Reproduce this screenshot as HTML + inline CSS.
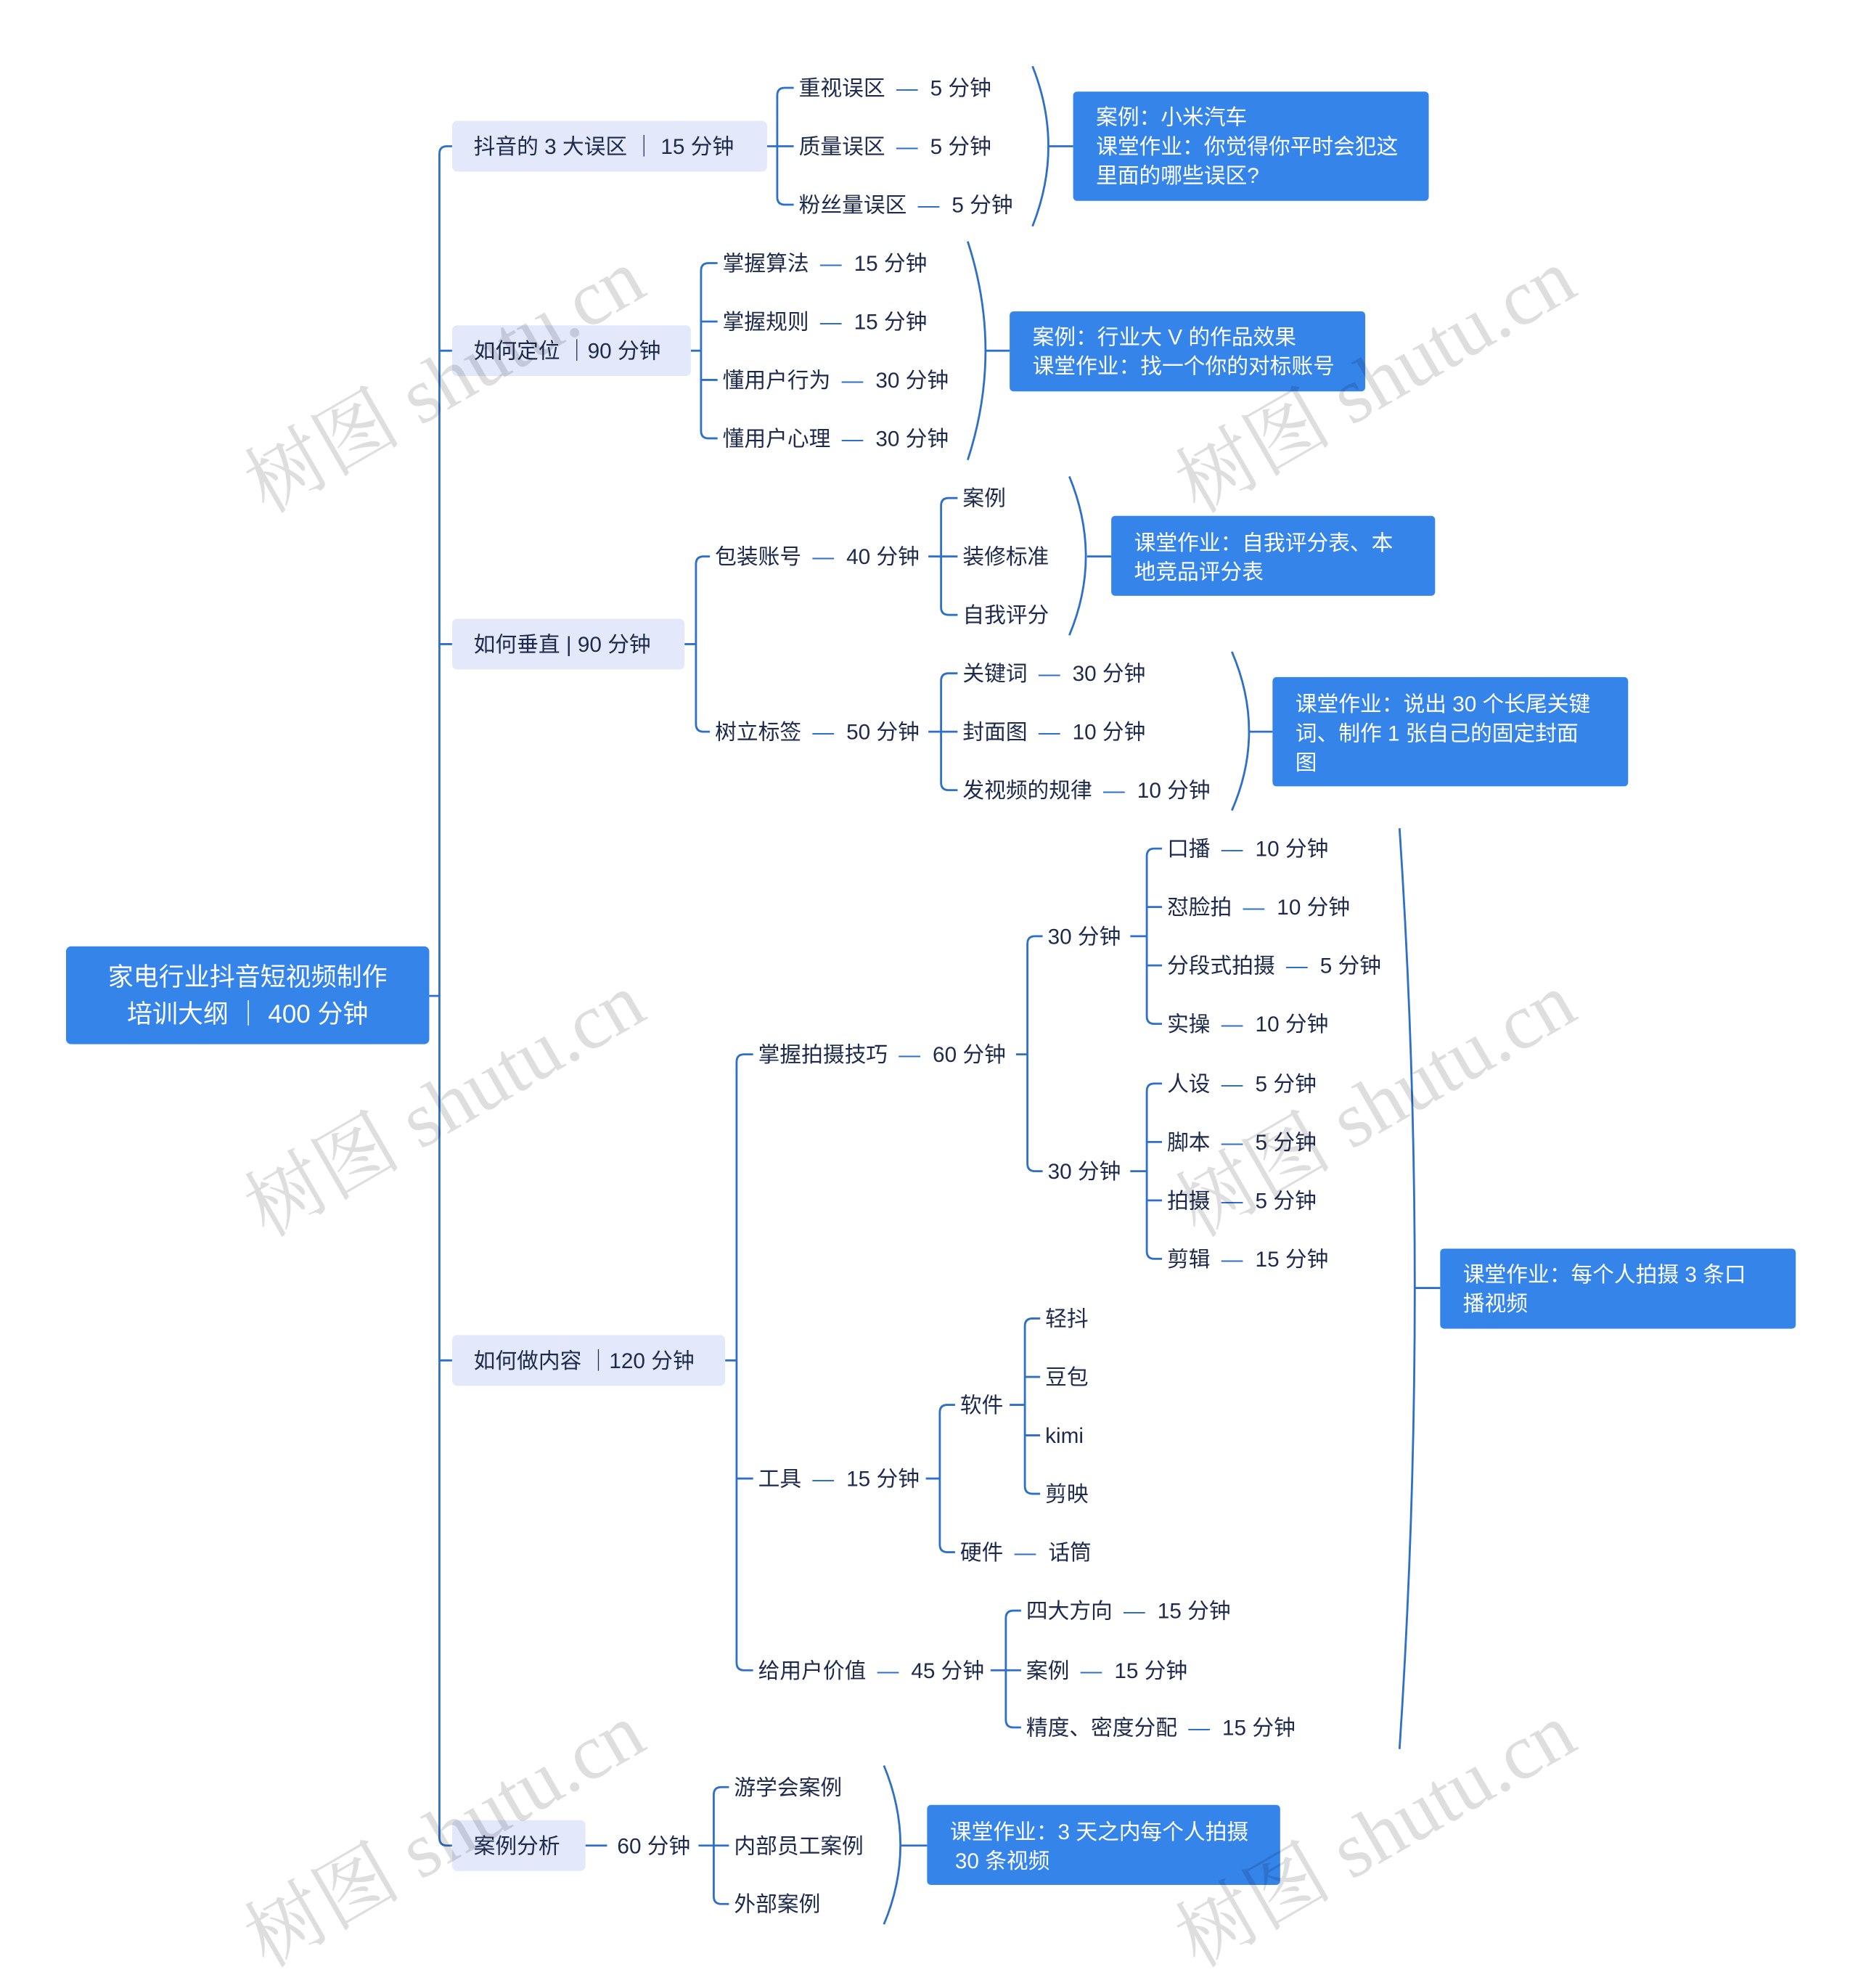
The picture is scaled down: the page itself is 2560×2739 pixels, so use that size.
<!DOCTYPE html>
<html><head><meta charset="utf-8"><style>
html,body{margin:0;padding:0;background:#fff;}
svg{display:block;}
text{font-family:"Liberation Sans","Noto Sans CJK SC",sans-serif;}
.t{font-size:17px;fill:#1d2a4d;}
.d{fill:#2e6fc8;letter-spacing:5px;}
.w{font-size:17px;fill:#fff;}
.ln{fill:none;stroke:#2e6fc8;stroke-width:1.6;}
.wm text{font-family:"Liberation Serif","Noto Serif CJK SC",serif;font-size:62px;fill:rgba(0,0,0,0.13);}
</style></head><body>
<svg width="2560" height="2739" viewBox="0 0 1463 1565" xmlns="http://www.w3.org/2000/svg">
<rect width="1463" height="1565" fill="#fff"/>

<g class="ln">
<path d="M338 784 H346 M356 115 H352 Q346 115 346 121 V1447 Q346 1453 352 1453 H356 M346 276 H356 M346 507 H356 M346 1071 H356"/>
<path d="M604 115 H612 M625 69 H618 Q612 69 612 75 V155 Q612 161 618 161 H625 M612 115 H625"/>
<path d="M813 52 Q838 115 813 178 M826 115 H845"/>
<path d="M544 276 H552 M565 207 H558 Q552 207 552 213 V339 Q552 345 558 345 H565 M552 253 H565 M552 299 H565"/>
<path d="M762 190 Q790 276 762 362 M776 276 H795"/>
<path d="M539 507 H548 M559 438 H554 Q548 438 548 444 V570 Q548 576 554 576 H559"/>
<path d="M731 438 H741 M754 392 H747 Q741 392 741 398 V478 Q741 484 747 484 H754 M741 438 H754"/>
<path d="M842 375 Q868 438 842 500 M856 438 H875"/>
<path d="M731 576 H741 M754 530 H747 Q741 530 741 536 V616 Q741 622 747 622 H754 M741 576 H754"/>
<path d="M970 513 Q997 576 970 638 M984 576 H1002"/>
<path d="M571 1071 H580 M593 830 H586 Q580 830 580 836 V1309 Q580 1315 586 1315 H593 M580 1164 H593"/>
<path d="M800 830 H809 M821 737 H815 Q809 737 809 743 V916 Q809 922 815 922 H821"/>
<path d="M890 737 H903 M915 668 H909 Q903 668 903 674 V800 Q903 806 909 806 H915 M903 714 H915 M903 760 H915"/>
<path d="M890 922 H903 M915 853 H909 Q903 853 903 859 V985 Q903 991 909 991 H915 M903 899 H915 M903 945 H915"/>
<path d="M729 1164 H740 M752 1106 H746 Q740 1106 740 1112 V1216 Q740 1222 746 1222 H752"/>
<path d="M795 1106 H807 M819 1038 H813 Q807 1038 807 1044 V1170 Q807 1176 813 1176 H819 M807 1084 H819 M807 1130 H819"/>
<path d="M780 1315 H792 M804 1268 H798 Q792 1268 792 1274 V1354 Q792 1360 798 1360 H804 M792 1315 H804"/>
<path d="M1102 652 Q1126 1014 1102 1377 M1114 1014 H1134"/>
<path d="M461 1453 H478"/>
<path d="M550 1453 H562 M574 1407 H568 Q562 1407 562 1413 V1493 Q562 1499 568 1499 H574 M562 1453 H574"/>
<path d="M696 1390 Q722 1453 696 1515 M709 1453 H730"/>
</g>

<rect x="52" y="745" width="286" height="77" rx="4" fill="#3584ea"/>
<text x="195" y="776" text-anchor="middle" style="font-size:20px;fill:#fff">家电行业抖音短视频制作</text>
<text x="195" y="805" text-anchor="middle" style="font-size:20px;fill:#fff">培训大纲 ｜ 400 分钟</text>

<g fill="#e3e9fb">
<rect x="356" y="95" width="248" height="40" rx="4"/>
<rect x="356" y="256" width="188" height="40" rx="4"/>
<rect x="356" y="487" width="183" height="40" rx="4"/>
<rect x="356" y="1051" width="215" height="40" rx="4"/>
<rect x="356" y="1433" width="105" height="40" rx="4"/>
</g>
<text class="t" x="373" y="121">抖音的 3 大误区 ｜ 15 分钟</text>
<text class="t" x="373" y="282">如何定位 ｜90 分钟</text>
<text class="t" x="373" y="513">如何垂直 | 90 分钟</text>
<text class="t" x="373" y="1077">如何做内容 ｜120 分钟</text>
<text class="t" x="373" y="1459">案例分析</text>
<text class="t" x="486" y="1459">60 分钟</text>

<g class="t">
<text x="629" y="75">重视误区 <tspan class="d" dx="4">—</tspan> 5 分钟</text>
<text x="629" y="121">质量误区 <tspan class="d" dx="4">—</tspan> 5 分钟</text>
<text x="629" y="167">粉丝量误区 <tspan class="d" dx="4">—</tspan> 5 分钟</text>

<text x="569" y="213">掌握算法 <tspan class="d" dx="4">—</tspan> 15 分钟</text>
<text x="569" y="259">掌握规则 <tspan class="d" dx="4">—</tspan> 15 分钟</text>
<text x="569" y="305">懂用户行为 <tspan class="d" dx="4">—</tspan> 30 分钟</text>
<text x="569" y="351">懂用户心理 <tspan class="d" dx="4">—</tspan> 30 分钟</text>

<text x="563" y="444">包装账号 <tspan class="d" dx="4">—</tspan> 40 分钟</text>
<text x="563" y="582">树立标签 <tspan class="d" dx="4">—</tspan> 50 分钟</text>
<text x="758" y="398">案例</text>
<text x="758" y="444">装修标准</text>
<text x="758" y="490">自我评分</text>
<text x="758" y="536">关键词 <tspan class="d" dx="4">—</tspan> 30 分钟</text>
<text x="758" y="582">封面图 <tspan class="d" dx="4">—</tspan> 10 分钟</text>
<text x="758" y="628">发视频的规律 <tspan class="d" dx="4">—</tspan> 10 分钟</text>

<text x="597" y="836">掌握拍摄技巧 <tspan class="d" dx="4">—</tspan> 60 分钟</text>
<text x="597" y="1170">工具 <tspan class="d" dx="4">—</tspan> 15 分钟</text>
<text x="597" y="1321">给用户价值 <tspan class="d" dx="4">—</tspan> 45 分钟</text>
<text x="825" y="743">30 分钟</text>
<text x="825" y="928">30 分钟</text>
<text x="919" y="674">口播 <tspan class="d" dx="4">—</tspan> 10 分钟</text>
<text x="919" y="720">怼脸拍 <tspan class="d" dx="4">—</tspan> 10 分钟</text>
<text x="919" y="766">分段式拍摄 <tspan class="d" dx="4">—</tspan> 5 分钟</text>
<text x="919" y="812">实操 <tspan class="d" dx="4">—</tspan> 10 分钟</text>
<text x="919" y="859">人设 <tspan class="d" dx="4">—</tspan> 5 分钟</text>
<text x="919" y="905">脚本 <tspan class="d" dx="4">—</tspan> 5 分钟</text>
<text x="919" y="951">拍摄 <tspan class="d" dx="4">—</tspan> 5 分钟</text>
<text x="919" y="997">剪辑 <tspan class="d" dx="4">—</tspan> 15 分钟</text>
<text x="756" y="1112">软件</text>
<text x="756" y="1228">硬件 <tspan class="d" dx="4">—</tspan> 话筒</text>
<text x="823" y="1044">轻抖</text>
<text x="823" y="1090">豆包</text>
<text x="823" y="1136">kimi</text>
<text x="823" y="1182">剪映</text>
<text x="808" y="1274">四大方向 <tspan class="d" dx="4">—</tspan> 15 分钟</text>
<text x="808" y="1321">案例 <tspan class="d" dx="4">—</tspan> 15 分钟</text>
<text x="808" y="1366">精度、密度分配 <tspan class="d" dx="4">—</tspan> 15 分钟</text>

<text x="578" y="1413">游学会案例</text>
<text x="578" y="1459">内部员工案例</text>
<text x="578" y="1505">外部案例</text>
</g>

<g fill="#3584ea">
<rect x="845" y="72" width="280" height="86" rx="3"/>
<rect x="795" y="245" width="280" height="63" rx="3"/>
<rect x="875" y="406" width="255" height="63" rx="3"/>
<rect x="1002" y="533" width="280" height="86" rx="3"/>
<rect x="1134" y="983" width="280" height="63" rx="3"/>
<rect x="730" y="1421" width="278" height="63" rx="3"/>
</g>
<g class="w">
<text x="863" y="98">案例：小米汽车</text>
<text x="863" y="121">课堂作业：你觉得你平时会犯这</text>
<text x="863" y="144">里面的哪些误区?</text>
<text x="813" y="271">案例：行业大 V 的作品效果</text>
<text x="813" y="294">课堂作业：找一个你的对标账号</text>
<text x="893" y="433">课堂作业：自我评分表、本</text>
<text x="893" y="456">地竞品评分表</text>
<text x="1020" y="560">课堂作业：说出 30 个长尾关键</text>
<text x="1020" y="583">词、制作 1 张自己的固定封面</text>
<text x="1020" y="606">图</text>
<text x="1152" y="1009">课堂作业：每个人拍摄 3 条口</text>
<text x="1152" y="1032">播视频</text>
<text x="748" y="1448">课堂作业：3 天之内每个人拍摄</text>
<text x="752" y="1471">30 条视频</text>
</g>

<g class="wm">
<text transform="translate(210,405) rotate(-30)">树图 shutu.cn</text>
<text transform="translate(210,975) rotate(-30)">树图 shutu.cn</text>
<text transform="translate(210,1550) rotate(-30)">树图 shutu.cn</text>
<text transform="translate(943,405) rotate(-30)">树图 shutu.cn</text>
<text transform="translate(943,975) rotate(-30)">树图 shutu.cn</text>
<text transform="translate(943,1550) rotate(-30)">树图 shutu.cn</text>
</g>
</svg>
</body></html>
